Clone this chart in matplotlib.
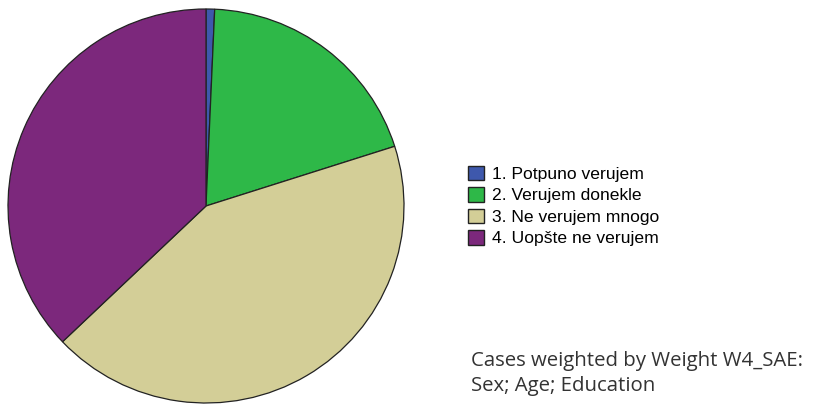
import matplotlib
matplotlib.use("Agg")
import matplotlib.pyplot as plt

# data (percent of weighted cases)
labels = ["1. Potpuno verujem", "2. Verujem donekle", "3. Ne verujem mnogo", "4. Uopšte ne verujem"]
shares = [0.7, 19.4, 42.8, 37.1]
colors = ["#3E58AC", "#2EB848", "#D3CE97", "#7C287C"]
note_lines = ["Cases weighted by Weight W4_SAE:", "Sex; Age; Education"]

W, H = 813, 404
fig = plt.figure(figsize=(W / 100, H / 100), dpi=100)

# pie axes (pixel box -> figure fractions)
ax = fig.add_axes([8 / W, 1 / H, 396 / W, 394 / H])
wedges, _ = ax.pie(shares, colors=colors, startangle=90, counterclock=False,
                   radius=1, wedgeprops=dict(edgecolor="#222222", linewidth=0.9))
ax.set_xlim(-1.0, 1.0)
ax.set_ylim(-1.0, 1.0)
ax.set_aspect("auto")
ax.axis("off")

# legend
leg = fig.legend(wedges, labels, loc="center left",
                 bbox_to_anchor=(468 / W, (H - 206) / H),
                 frameon=False, borderpad=0, borderaxespad=0,
                 handlelength=0.92, handleheight=0.92, handletextpad=0.46,
                 labelspacing=0.29,
                 prop=dict(family="Liberation Sans", size=12.6))
for h in leg.legend_handles:
    h.set_edgecolor("#222222")
    h.set_linewidth(1.0)

# footnote, sized so the first line spans about 334 px like the reference
t1 = fig.text(471 / W, (H - 366) / H, note_lines[0], family="Open Sans", size=14,
              color="#333333", va="baseline", ha="left")
t2 = fig.text(471 / W, (H - 391) / H, note_lines[1], family="Open Sans", size=14,
              color="#333333", va="baseline", ha="left")
r = fig.canvas.get_renderer()
w1 = t1.get_window_extent(r).width
size = 14 * 334 / w1
t1.set_fontsize(size)
t2.set_fontsize(size)

fig.savefig("out.png", dpi=100)
